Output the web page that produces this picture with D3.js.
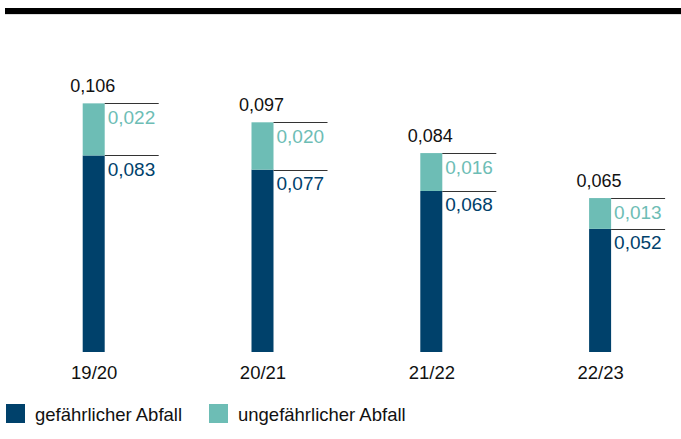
<!DOCTYPE html>
<html><head><meta charset="utf-8">
<script src="https://cdn.jsdelivr.net/npm/d3@7"></script>
<style>body{margin:0;background:#fff}svg{display:block}text{font-family:"Liberation Sans",Arial,sans-serif}</style>
</head><body>
<svg id="c" width="681" height="439"></svg>
<script>
const categories = ["19/20", "20/21", "21/22", "22/23"];
const hazardous = [0.083, 0.077, 0.068, 0.052];
const nonHazardous = [0.022, 0.020, 0.016, 0.013];
const totals = [0.106, 0.097, 0.084, 0.065];
const seriesNames = ["gefährlicher Abfall", "ungefährlicher Abfall"];
const colors = ["#00416b", "#6dbdb5"];

const svg = d3.select("#c");
const fmt = v => v.toFixed(3).replace(".", ",");

// top rule
svg.append("rect").attr("x", 5).attr("y", 8).attr("width", 676).attr("height", 6).attr("fill", "#000");
svg.append("line").attr("x1", 5).attr("x2", 681).attr("y1", 14.5).attr("y2", 14.5).attr("stroke", "#ddd").attr("stroke-width", 1);

const x = d3.scalePoint().domain(categories).range([9.3, 684.5]).padding(0.5);
const y = d3.scaleLinear().domain([0, 0.1]).range([352, 115.2]);
const bw = 22, lineLen = 54;

const rows = categories.map((c, i) => ({cat: c, h: hazardous[i], n: nonHazardous[i], t: totals[i]}));
const stack = d3.stack().keys(["h", "n"])(rows);

stack.forEach((layer, li) => {
  svg.append("g").selectAll("rect").data(layer).join("rect")
    .attr("x", d => x(d.data.cat) - bw / 2)
    .attr("width", bw)
    .attr("y", d => y(d[1]))
    .attr("height", d => y(d[0]) - y(d[1]))
    .attr("fill", colors[li]);
  svg.append("g").selectAll("line").data(layer).join("line")
    .attr("x1", d => x(d.data.cat) + bw / 2)
    .attr("x2", d => x(d.data.cat) + bw / 2 + lineLen)
    .attr("y1", d => Math.round(y(d[1])) + 0.5)
    .attr("y2", d => Math.round(y(d[1])) + 0.5)
    .attr("stroke", "#333").attr("stroke-width", 1.2);
  svg.append("g").selectAll("text").data(layer).join("text")
    .attr("x", d => x(d.data.cat) + bw / 2 + 3)
    .attr("y", d => y(d[1]) + 20.5)
    .attr("font-size", 19)
    .attr("fill", colors[li])
    .text(d => fmt(li === 0 ? d.data.h : d.data.n));
});

// totals
svg.append("g").selectAll("text").data(rows).join("text")
  .attr("x", d => x(d.cat) - 1)
  .attr("y", d => y(d.h + d.n) - 11.5)
  .attr("text-anchor", "middle")
  .attr("font-size", 18)
  .attr("fill", "#111")
  .text(d => fmt(d.t));

// x axis labels
const xAxis = d3.axisBottom(x).tickSize(0).tickPadding(0);
const gx = svg.append("g").attr("transform", "translate(0,352)").call(xAxis);
gx.select(".domain").remove();
gx.selectAll("text").attr("font-size", 18.5).attr("fill", "#111").attr("dy", null).attr("y", 27)
  .style("font-family", '"Liberation Sans",Arial,sans-serif');

// legend
const legX = [6, 209];
const lg = svg.append("g").selectAll("g").data(seriesNames).join("g")
  .attr("transform", (d, i) => `translate(${legX[i]},404)`);
lg.append("rect").attr("width", 19).attr("height", 19).attr("fill", (d, i) => colors[i]);
lg.append("text").attr("x", 29).attr("y", 16.5).attr("font-size", 18.5).attr("fill", "#111").text(d => d);
</script>
</body></html>
